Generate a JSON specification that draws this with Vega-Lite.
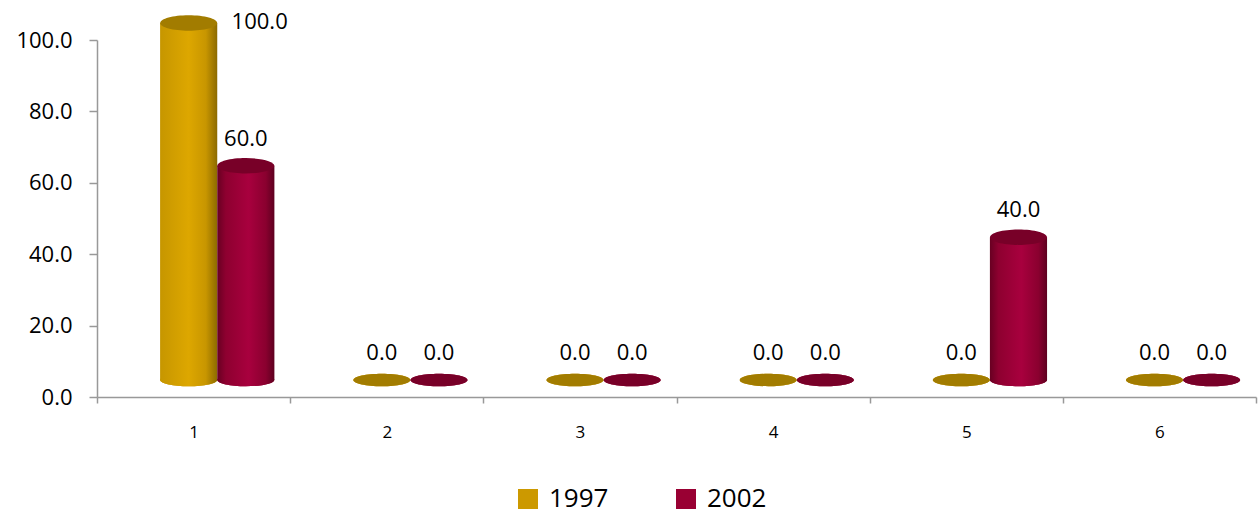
{
  "$schema": "https://vega.github.io/schema/vega-lite/v6.json",
  "width": 1159,
  "height": 357,
  "autosize": {"type": "none"},
  "padding": {"left": 97, "top": 40, "right": 2, "bottom": 119},
  "background": "white",
  "config": {"view": {"stroke": null}, "font": "Open Sans"},
  "data": {
    "values": [
      {"cat": "1", "year": "1997", "value": 100},
      {"cat": "1", "year": "2002", "value": 60},
      {"cat": "2", "year": "1997", "value": 0},
      {"cat": "2", "year": "2002", "value": 0},
      {"cat": "3", "year": "1997", "value": 0},
      {"cat": "3", "year": "2002", "value": 0},
      {"cat": "4", "year": "1997", "value": 0},
      {"cat": "4", "year": "2002", "value": 0},
      {"cat": "5", "year": "1997", "value": 0},
      {"cat": "5", "year": "2002", "value": 40},
      {"cat": "6", "year": "1997", "value": 0},
      {"cat": "6", "year": "2002", "value": 0}
    ]
  },
  "encoding": {
    "x": {
      "field": "cat", "type": "nominal",
      "scale": {"paddingInner": 0, "paddingOuter": 0},
      "axis": {
        "title": null, "labelAngle": 0, "tickBand": "extent", "grid": false,
        "domainColor": "#999999", "tickColor": "#999999", "domainWidth": 1.5, "tickWidth": 1.5,
        "tickSize": 6, "labelFontSize": 17, "labelPadding": 21, "labelColor": "black"
      }
    },
    "xOffset": {
      "field": "year", "type": "nominal",
      "scale": {"paddingInner": 0, "paddingOuter": 0.69, "align": 0.8}
    },
    "y": {
      "field": "value", "type": "quantitative",
      "scale": {"domain": [0, 100]},
      "axis": {
        "title": null, "values": [0, 20, 40, 60, 80, 100], "format": ".1f", "grid": false,
        "domainColor": "#999999", "tickColor": "#999999", "domainWidth": 1.5, "tickWidth": 1.5,
        "tickSize": 8, "labelFontSize": 22, "labelPadding": 17, "labelColor": "black"
      }
    }
  },
  "layer": [
    {
      "mark": {"type": "point", "shape": "M -1 0 A 1 0.22 0 1 0 1 0 A 1 0.22 0 1 0 -1 0 Z", "size": 3249, "filled": true, "opacity": 1, "strokeWidth": 0, "yOffset": -17},
      "encoding": {
        "y": {"datum": 0},
        "color": {
          "field": "year", "type": "nominal",
          "scale": {"domain": ["1997", "2002"], "range": ["#CC9900", "#990033"]},
          "legend": {
            "title": null, "orient": "none", "legendX": 418, "legendY": 446, "direction": "horizontal",
            "symbolType": "square", "symbolSize": 400, "symbolStrokeWidth": 0, "symbolOpacity": 1,
            "labelFontSize": 26, "labelColor": "black", "labelOffset": 8, "columnPadding": 64
          }
        }
      }
    },
    {
      "transform": [{"filter": "datum.year === '1997'"}],
      "mark": {"type": "bar", "yOffset": -17, "y2Offset": -17,
        "fill": {"gradient": "linear", "x1": 0, "x2": 1, "y1": 0, "y2": 0,
          "stops": [{"offset": 0, "color": "#C69600"}, {"offset": 0.5, "color": "#DDA700"}, {"offset": 0.8, "color": "#C89600"}, {"offset": 1, "color": "#8C6A00"}]}},
      "encoding": {"y2": {"datum": 0}}
    },
    {
      "transform": [{"filter": "datum.year === '2002'"}],
      "mark": {"type": "bar", "yOffset": -17, "y2Offset": -17,
        "fill": {"gradient": "linear", "x1": 0, "x2": 1, "y1": 0, "y2": 0,
          "stops": [{"offset": 0, "color": "#680022"}, {"offset": 0.15, "color": "#8E0030"}, {"offset": 0.55, "color": "#A8003E"}, {"offset": 0.85, "color": "#8A002F"}, {"offset": 1, "color": "#5E001F"}]}},
      "encoding": {"y2": {"datum": 0}}
    },
    {
      "transform": [{"filter": "datum.year === '1997' && datum.value > 0"}],
      "mark": {"type": "point", "shape": "M -1 0 A 1 0.22 0 1 0 1 0 A 1 0.22 0 1 0 -1 0 Z", "size": 3249, "filled": true, "opacity": 1, "strokeWidth": 0, "yOffset": -17,
        "fill": {"gradient": "linear", "x1": 0, "x2": 1, "y1": 0, "y2": 0,
          "stops": [{"offset": 0, "color": "#C69600"}, {"offset": 0.5, "color": "#DDA700"}, {"offset": 0.8, "color": "#C89600"}, {"offset": 1, "color": "#8C6A00"}]}},
      "encoding": {"y": {"datum": 0}}
    },
    {
      "transform": [{"filter": "datum.year === '2002' && datum.value > 0"}],
      "mark": {"type": "point", "shape": "M -1 0 A 1 0.22 0 1 0 1 0 A 1 0.22 0 1 0 -1 0 Z", "size": 3249, "filled": true, "opacity": 1, "strokeWidth": 0, "yOffset": -17,
        "fill": {"gradient": "linear", "x1": 0, "x2": 1, "y1": 0, "y2": 0,
          "stops": [{"offset": 0, "color": "#680022"}, {"offset": 0.15, "color": "#8E0030"}, {"offset": 0.55, "color": "#A8003E"}, {"offset": 0.85, "color": "#8A002F"}, {"offset": 1, "color": "#5E001F"}]}},
      "encoding": {"y": {"datum": 0}}
    },
    {
      "transform": [{"filter": "datum.value > 0"}],
      "mark": {"type": "point", "shape": "M -1 0 A 1 0.27 0 1 0 1 0 A 1 0.27 0 1 0 -1 0 Z", "size": 3249, "filled": true, "opacity": 1, "strokeWidth": 0, "yOffset": -17},
      "encoding": {
        "fill": {"condition": {"test": "datum.year === '1997'", "value": "#A27C00"}, "value": "#780028"}
      }
    },
    {
      "transform": [{"filter": "datum.value === 0"}],
      "mark": {"type": "point", "shape": "M -1 0 A 1 0.22 0 1 0 1 0 A 1 0.22 0 1 0 -1 0 Z", "size": 3249, "filled": true, "opacity": 1, "strokeWidth": 0, "yOffset": -17},
      "encoding": {
        "fill": {"condition": {"test": "datum.year === '1997'", "value": "#A27C00"}, "value": "#780028"}
      }
    },
    {
      "transform": [{"filter": "datum.value < 100"}],
      "mark": {"type": "text", "dy": -44, "baseline": "middle", "align": "center", "fontSize": 22, "color": "black"},
      "encoding": {"text": {"field": "value", "type": "quantitative", "format": ".1f"}}
    },
    {
      "transform": [{"filter": "datum.value >= 100"}],
      "mark": {"type": "text", "dx": 71, "dy": -18, "baseline": "middle", "align": "center", "fontSize": 22, "color": "black"},
      "encoding": {"text": {"field": "value", "type": "quantitative", "format": ".1f"}}
    }
  ]
}
